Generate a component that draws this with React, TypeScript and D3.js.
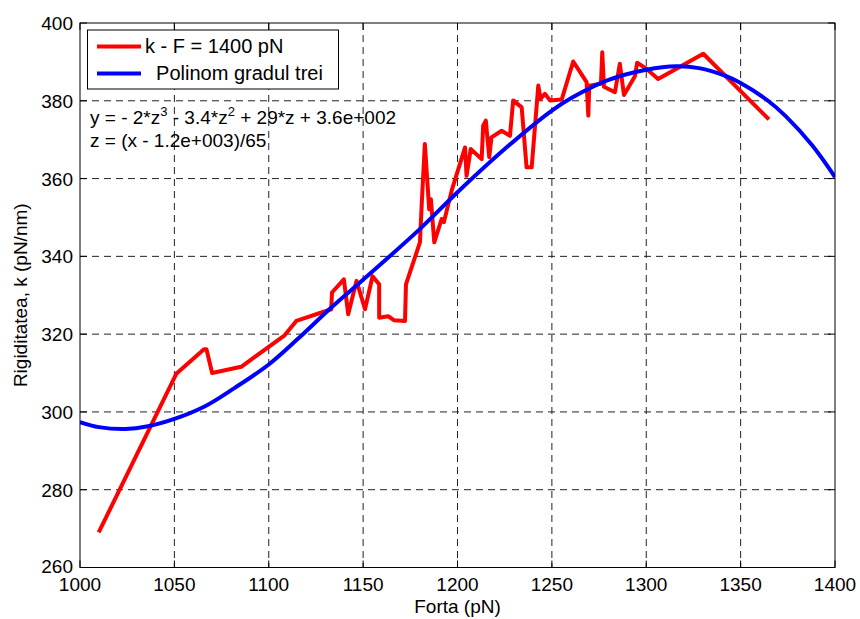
import React from "react";
import * as d3 from "d3";

const redX = [1009.9, 1051, 1065.7, 1067, 1070, 1085.4, 1108.4, 1114.6, 1133.1, 1133.5, 1139.8, 1142.1, 1146.5, 1151, 1155, 1158.5, 1158.5, 1163.3, 1166.3, 1172.2, 1172.7, 1180.1, 1181, 1182.7, 1185, 1185.9, 1187.7, 1191.6, 1192.8, 1196.9, 1204, 1204.8, 1207, 1212.8, 1213.6, 1215, 1216.8, 1218, 1223.4, 1227.8, 1229.5, 1234, 1236.6, 1239.3, 1242.8, 1244, 1246.3, 1249, 1255.2, 1261.3, 1268.4, 1269.3, 1269.8, 1276, 1276.7, 1277.6, 1283.4, 1286, 1288.2, 1294, 1295.2, 1300.2, 1306.3, 1330.2, 1365];
const redY = [269.0, 309.8, 316.1, 316.1, 310, 311.6, 319.7, 323.4, 326.4, 330.7, 334.1, 325.1, 333.7, 326.4, 334.9, 332.8, 324.2, 324.6, 323.6, 323.4, 332.8, 343.6, 353.0, 368.9, 352.1, 354.7, 343.6, 349.6, 348.8, 356.9, 368.0, 360.7, 367.6, 365, 373.6, 374.9, 365.5, 370.6, 372.3, 371.0, 380.1, 378.3, 362.9, 362.9, 383.9, 380.5, 381.8, 380.1, 380.3, 390.1, 384.8, 376.2, 383.9, 384.4, 392.5, 383.6, 382.2, 389.5, 381.5, 386.3, 389.8, 388.2, 385.6, 392.1, 375.2];

const fitX = [1000, 1010, 1024, 1036, 1050, 1066, 1082, 1100, 1115, 1133, 1150, 1180, 1200, 1225, 1250, 1261, 1279, 1300, 1316, 1328, 1342, 1350, 1364, 1374, 1388, 1400];
const fitY = [297.4, 296.1, 295.6, 296.3, 298.2, 301.4, 306.2, 312.2, 318.6, 326.8, 334.0, 347.0, 356.5, 367.6, 377.5, 380.9, 385.2, 388.0, 388.9, 388.4, 386.4, 384.6, 380.2, 376.0, 368.5, 360.4];

const xTicks = [1000, 1050, 1100, 1150, 1200, 1250, 1300, 1350, 1400];
const yTicks = [260, 280, 300, 320, 340, 360, 380, 400];

const legendLabels = ["k - F = 1400 pN", "  Polinom gradul trei"];
const xLabel = "Forta (pN)";
const yLabel = "Rigiditatea, k (pN/nm)";

const W = 860, H = 619;
const L = 80, R = 835, T = 23, B = 567.5;
const FONT = "'Liberation Sans', Arial, Helvetica, sans-serif";

export default function App() {
  const x = d3.scaleLinear().domain([1000, 1400]).range([L, R]);
  const y = d3.scaleLinear().domain([260, 400]).range([B, T]);
  const redPts: [number, number][] = redX.map((v, i) => [v, redY[i]]);
  const fitPts: [number, number][] = fitX.map((v, i) => [v, fitY[i]]);
  const line = d3.line<[number, number]>().x(d => x(d[0])).y(d => y(d[1]));
  const smooth = d3.line<[number, number]>().x(d => x(d[0])).y(d => y(d[1])).curve(d3.curveCatmullRom);
  const fs = 19;
  const tick = 7;
  return (
    <svg width={W} height={H} style={{ position: "absolute", left: 0, top: 0, background: "#fff" }} fontFamily={FONT}>
      <rect x={0} y={0} width={W} height={H} fill="#fff" />
      <defs>
        <clipPath id="plotclip"><rect x={L} y={T} width={R - L} height={B - T} /></clipPath>
      </defs>
      {xTicks.slice(1, -1).map(t => (
        <line key={"gx" + t} x1={x(t)} x2={x(t)} y1={T} y2={B} stroke="#222" strokeWidth={1} strokeDasharray="7,5" />
      ))}
      {yTicks.slice(1, -1).map(t => (
        <line key={"gy" + t} x1={L} x2={R} y1={y(t)} y2={y(t)} stroke="#222" strokeWidth={1} strokeDasharray="7,5" />
      ))}
      {xTicks.map(t => (
        <g key={"tx" + t}>
          <line x1={x(t)} x2={x(t)} y1={B} y2={B - tick} stroke="#000" />
          <line x1={x(t)} x2={x(t)} y1={T} y2={T + tick} stroke="#000" />
          <text x={x(t)} y={591} textAnchor="middle" fontSize={fs} fill="#000">{t}</text>
        </g>
      ))}
      {yTicks.map(t => (
        <g key={"ty" + t}>
          <line x1={L} x2={L + tick} y1={y(t)} y2={y(t)} stroke="#000" />
          <line x1={R} x2={R - tick} y1={y(t)} y2={y(t)} stroke="#000" />
          <text x={73} y={y(t) + (t === 260 ? 5 : 7)} textAnchor="end" fontSize={fs} fill="#000">{t}</text>
        </g>
      ))}
      <g clipPath="url(#plotclip)">
        <path d={line(redPts) || ""} fill="none" stroke="#ff0000" strokeWidth={4} strokeLinejoin="round" />
        <path d={smooth(fitPts) || ""} fill="none" stroke="#0000ff" strokeWidth={4} strokeLinejoin="round" />
      </g>
      <rect x={L} y={T} width={R - L} height={B - T} fill="none" stroke="#000" strokeWidth={1} />
      <rect x={87.5} y={30} width={251} height={59} fill="#fff" stroke="#000" strokeWidth={1} />
      <line x1={97} x2={141} y1={46.5} y2={46.5} stroke="#ff0000" strokeWidth={4} />
      <line x1={97} x2={141} y1={73.5} y2={73.5} stroke="#0000ff" strokeWidth={4} />
      <text x={145} y={53} fontSize={fs + 1} fill="#000">{legendLabels[0]}</text>
      <text x={145} y={80} fontSize={fs + 1} fill="#000" style={{ whiteSpace: "pre" }}>{legendLabels[1]}</text>
      <text x={90} y={124} fontSize={fs} fill="#000">
        <tspan>y = - 2*z</tspan>
        <tspan fontSize={13} dy={-8}>3</tspan>
        <tspan dy={8}> - 3.4*z</tspan>
        <tspan fontSize={13} dy={-8}>2</tspan>
        <tspan dy={8}> + 29*z + 3.6e+002</tspan>
      </text>
      <text x={90} y={147} fontSize={fs} fill="#000">z = (x - 1.2e+003)/65</text>
      <text x={(L + R) / 2} y={613} textAnchor="middle" fontSize={fs} fill="#000">{xLabel}</text>
      <text transform={`translate(27, ${(T + B) / 2}) rotate(-90)`} textAnchor="middle" fontSize={fs} fill="#000">{yLabel}</text>
    </svg>
  );
}
